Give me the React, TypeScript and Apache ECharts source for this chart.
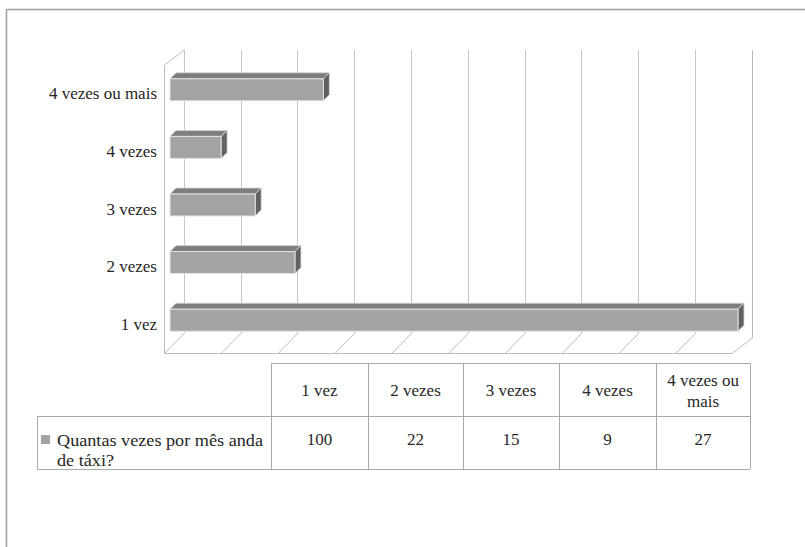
import React, { useEffect, useRef } from "react";
import * as echarts from "echarts";

// ---- data ----
const categories = ["1 vez", "2 vezes", "3 vezes", "4 vezes", "4 vezes ou mais"];
const values = [100, 22, 15, 9, 27];
const seriesName = "Quantas vezes por mês anda de táxi?";
const legendLines = ["Quantas vezes por mês anda", "de táxi?"];
const tableHeaders = ["1 vez", "2 vezes", "3 vezes", "4 vezes", "4 vezes ou\nmais"];
const gridTicks = [0, 10, 20, 30, 40, 50, 60, 70, 80, 90, 100];
const axisMax = 100;
const axisInterval = 10;

// ---- layout / style ----
const FONT = "Liberation Serif";
const FS = 17;
const TEXT = "#262626";
const FRONT = { left: 164, top: 65, bottom: 353 };
const DX = 20; // depth in x
const DY_TOP = 15;
const BACK_BOTTOM = 333;
const BAR_OFF_X = 6;
const BAR_OFF_Y = -4;
const BAR_H = 22;
const BAR_DX = 6;
const BAR_DY = 6;
const tableCols = [271, 368, 463, 559, 656, 750];
const tableRows = [363, 416, 469];
const tableLeft = 37;

export default function App() {
  const ref = useRef<HTMLDivElement>(null);
  useEffect(() => {
    if (!ref.current) return;
    const chart = echarts.init(ref.current, undefined, { renderer: "svg" });
    const frameColor = "#bcbcbc";
    const lineStyle = { stroke: frameColor, lineWidth: 1 };

    const graphics: any[] = [];
    // outer border
    graphics.push({ type: "line", shape: { x1: 6.5, y1: 9.5, x2: 805, y2: 9.5 }, style: { stroke: "#9f9f9f", lineWidth: 1.5 } });
    graphics.push({ type: "line", shape: { x1: 6.5, y1: 9.5, x2: 6.5, y2: 547 }, style: { stroke: "#9f9f9f", lineWidth: 1.5 } });
    // table lines
    const tl = { stroke: "#a9a9a9", lineWidth: 1 };
    const lastCol = tableCols[tableCols.length - 1];
    graphics.push({ type: "line", shape: { x1: tableCols[0], y1: tableRows[0] + 0.5, x2: lastCol, y2: tableRows[0] + 0.5 }, style: tl });
    graphics.push({ type: "line", shape: { x1: tableLeft, y1: tableRows[1] + 0.5, x2: lastCol, y2: tableRows[1] + 0.5 }, style: tl });
    graphics.push({ type: "line", shape: { x1: tableLeft, y1: tableRows[2] + 0.5, x2: lastCol, y2: tableRows[2] + 0.5 }, style: tl });
    tableCols.forEach((x) => {
      graphics.push({ type: "line", shape: { x1: x + 0.5, y1: tableRows[0], x2: x + 0.5, y2: tableRows[2] }, style: tl });
    });
    graphics.push({ type: "line", shape: { x1: tableLeft + 0.5, y1: tableRows[1], x2: tableLeft + 0.5, y2: tableRows[2] }, style: tl });
    // header + value texts
    tableHeaders.forEach((h, i) => {
      const cx = (tableCols[i] + tableCols[i + 1]) / 2;
      graphics.push({
        type: "text",
        x: cx,
        y: (tableRows[0] + tableRows[1]) / 2 + 1,
        style: { text: h, fontFamily: FONT, fontSize: FS, fill: TEXT, align: "center", verticalAlign: "middle", lineHeight: 21 },
      });
      graphics.push({
        type: "text",
        x: cx,
        y: 439,
        style: { text: String(values[i]), fontFamily: FONT, fontSize: FS, fill: TEXT, align: "center", verticalAlign: "middle" },
      });
    });
    // legend cell
    graphics.push({ type: "rect", shape: { x: 41, y: 435, width: 9, height: 9 }, style: { fill: "#a3a3a5" } });
    legendLines.forEach((t, i) => {
      graphics.push({
        type: "text",
        x: 57,
        y: 440 + i * 20,
        scaleX: 1.07,
        style: { text: t, fontFamily: FONT, fontSize: FS, fill: TEXT, align: "left", verticalAlign: "middle" },
      });
    });

    const option: any = {
      animation: false,
      grid: [
        { left: FRONT.left, top: FRONT.top, width: 568, height: FRONT.bottom - FRONT.top, containLabel: false },
        { left: FRONT.left + DX, top: FRONT.top - DY_TOP, width: 568, height: BACK_BOTTOM - (FRONT.top - DY_TOP), containLabel: false },
      ],
      xAxis: [
        { type: "value", gridIndex: 0, min: 0, max: axisMax, interval: axisInterval, axisLine: { show: false }, axisTick: { show: false }, axisLabel: { show: false }, splitLine: { show: false } },
        { type: "value", gridIndex: 1, min: 0, max: axisMax, interval: axisInterval, axisLine: { show: false }, axisTick: { show: false }, axisLabel: { show: false }, splitLine: { show: true, lineStyle: { color: "#c6c6c6", width: 1 } } },
      ],
      yAxis: [
        {
          type: "category", gridIndex: 0, data: categories,
          axisLine: { show: false }, axisTick: { show: false }, splitLine: { show: false },
          axisLabel: { color: TEXT, fontFamily: FONT, fontSize: FS, margin: 7 },
        },
        { type: "category", gridIndex: 1, data: categories, show: false },
      ],
      series: [
        {
          type: "custom",
          name: "frame",
          xAxisIndex: 0,
          yAxisIndex: 0,
          silent: true,
          clip: false,
          data: [[0, 0]],
          renderItem: (params: any, api: any) => {
            const cs = params.coordSys;
            const top = cs.y;
            const bottom = cs.y + cs.height;
            const children: any[] = [];
            const x0 = api.coord([0, 0])[0];
            const x100 = api.coord([axisMax, 0])[0];
            children.push({ type: "line", shape: { x1: x0 + 0.5, y1: top, x2: x0 + 0.5, y2: bottom }, style: lineStyle });
            children.push({ type: "line", shape: { x1: x0 + 0.5, y1: top, x2: x0 + DX + 0.5, y2: top - DY_TOP }, style: lineStyle });
            children.push({ type: "line", shape: { x1: x0, y1: bottom + 0.5, x2: x100, y2: bottom + 0.5 }, style: lineStyle });
            gridTicks.forEach((t) => {
              const xf = api.coord([t, 0])[0];
              if (t === axisMax) {
                children.push({ type: "line", shape: { x1: xf + DX + 0.5, y1: top - DY_TOP, x2: xf + DX + 0.5, y2: bottom - DY_TOP }, style: lineStyle });
                children.push({ type: "line", shape: { x1: xf + DX + 0.5, y1: bottom - DY_TOP, x2: xf, y2: bottom + 0.5 }, style: lineStyle });
              } else {
                children.push({ type: "line", shape: { x1: xf + DX + 0.5, y1: BACK_BOTTOM, x2: xf + 0.5, y2: bottom + 0.5 }, style: lineStyle });
              }
            });
            return { type: "group", children };
          },
        },
        {
          type: "custom",
          name: seriesName,
          xAxisIndex: 0,
          yAxisIndex: 0,
          clip: false,
          data: values.map((v, i) => [v, i]),
          renderItem: (params: any, api: any) => {
            const v = api.value(0);
            const i = api.value(1);
            const s = api.coord([0, i]);
            const e = api.coord([v, i]);
            const x0 = s[0] + BAR_OFF_X;
            const x1 = e[0] + BAR_OFF_X;
            const yc = s[1] + BAR_OFF_Y;
            const yT = yc - BAR_H / 2;
            const yB = yc + BAR_H / 2;
            return {
              type: "group",
              children: [
                {
                  type: "polygon",
                  shape: { points: [[x0, yT], [x0 + BAR_DX, yT - BAR_DY], [x1 + BAR_DX, yT - BAR_DY], [x1, yT]] },
                  style: { fill: "#7e7e80", stroke: "#d8d8d8", lineWidth: 0.8 },
                },
                {
                  type: "polygon",
                  shape: { points: [[x1, yT], [x1 + BAR_DX, yT - BAR_DY], [x1 + BAR_DX, yB - BAR_DY], [x1, yB]] },
                  style: { fill: "#616163", stroke: "#d8d8d8", lineWidth: 0.8 },
                },
                {
                  type: "rect",
                  shape: { x: x0, y: yT, width: x1 - x0, height: BAR_H },
                  style: { fill: "#a3a3a5", stroke: "#e4e4e4", lineWidth: 1 },
                },
              ],
            };
          },
        },
      ],
      graphic: graphics,
    };
    chart.setOption(option);
    return () => chart.dispose();
  }, []);
  return <div ref={ref} style={{ position: "absolute", left: 0, top: 0, width: 805, height: 547, background: "#fff" }} />;
}
